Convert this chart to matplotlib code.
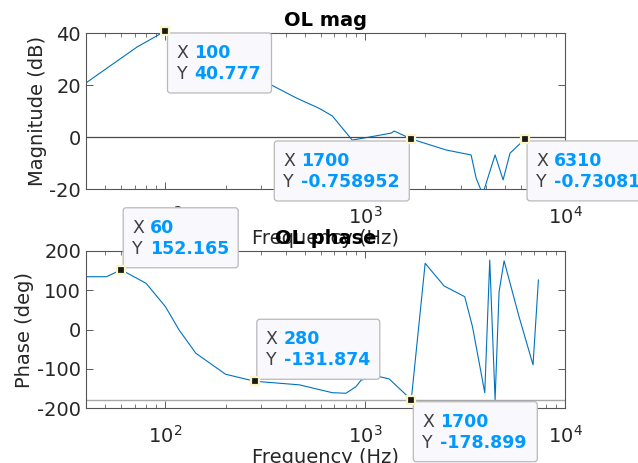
import numpy as np
import matplotlib
matplotlib.use("Agg")
import matplotlib.pyplot as plt
from matplotlib.patches import FancyBboxPatch
from matplotlib.lines import Line2D
from matplotlib.transforms import IdentityTransform

plt.rcParams['font.family'] = ['DejaVu Sans']
plt.rcParams['axes.unicode_minus'] = False

# open loop magnitude (dB)
f_mag = [40, 47, 72, 100, 121, 339, 452, 589, 684, 861, 1349, 1396, 1700,
         2541, 3388, 3590, 3800, 3935, 4467, 4898, 5309, 6310, 7330]
mag_db = [20.8, 24.6, 34.6, 40.777, 40.8, 20.0, 15.0, 11.0, 8.1, -1.2, 1.5, 2.3,
          -0.758952, -5.0, -6.9, -15.8, -20.5, -20.3, -6.9, -16.5, -6.2, -0.7308, -4.0]

# open loop phase (deg)
f_ph = [40, 50.7, 60, 80, 100, 117, 142, 200, 280, 468, 684, 800, 898, 955,
        1175, 1318, 1700, 1995, 2483, 3148, 3443, 3966, 4200, 4467, 4677,
        4955, 5888, 6918, 7360]
phase_deg = [134.5, 134.5, 152.165, 117.6, 58, -1.3, -60.7, -114, -131.874,
             -141, -161, -162.5, -145.7, -128.7, -120, -126, -178.899, 168.7,
             110.8, 83.6, 7, -161, 177, -179.6, 96, 175, 32.6, -90, 126]

# data tips: (x, y, label text, corner, box width)
mag_tips = [(100, 40.777, '40.777', 'lr', 104),
            (1700, -0.758952, '-0.758952', 'll', 135),
            (6310, -0.7308, '-0.730812', 'lr', 135)]
ph_tips = [(60, 152.165, '152.165', 'ur', 115),
           (280, -131.874, '-131.874', 'ur', 123),
           (1700, -178.899, '-178.899', 'lr', 124)]
tip_x_labels = {100: '100', 1700: '1700', 6310: '6310', 60: '60', 280: '280'}

W, H = 638, 463
fig = plt.figure(figsize=(W / 100, H / 100), dpi=100)
ax1 = fig.add_axes([86 / W, 1 - 189 / H, 479 / W, 156 / H])
ax2 = fig.add_axes([86 / W, 1 - 408 / H, 479 / W, 157 / H])

line_c = '#0072BD'
txt_c = '#262626'
fs = 14

ax1.semilogx(f_mag, mag_db, color=line_c, lw=0.8)
ax1.axhline(0, color='#4a4a4a', lw=0.9)
ax1.set_xlim(40, 1e4)
ax1.set_ylim(-20, 40)
ax1.set_yticks([-20, 0, 20, 40])
ax1.set_ylabel('Magnitude (dB)', fontsize=fs, color=txt_c, labelpad=2)
ax1.set_xlabel('Frequency (Hz)', fontsize=fs, color=txt_c, labelpad=1)
ax1.set_title('OL mag', fontsize=fs, fontweight='bold', pad=5)

ax2.semilogx(f_ph, phase_deg, color=line_c, lw=0.8)
ax2.axhline(-180, color='#a8a8a8', lw=1.0)
ax2.set_xlim(40, 1e4)
ax2.set_ylim(-200, 200)
ax2.set_yticks([-200, -100, 0, 100, 200])
ax2.set_ylabel('Phase (deg)', fontsize=fs, color=txt_c, labelpad=2)
ax2.set_xlabel('Frequency (Hz)', fontsize=fs, color=txt_c, labelpad=1)
ax2.set_title('OL phase', fontsize=fs, fontweight='bold', pad=5)

for ax in (ax1, ax2):
    ax.tick_params(which='both', direction='in', top=True, right=True,
                   labelsize=fs, labelcolor=txt_c, color='#404040')
    ax.tick_params(which='major', length=5, width=0.6)
    ax.tick_params(which='minor', length=3, width=0.5)
    ax.tick_params(axis='x', which='major', pad=12)
    for sp in ax.spines.values():
        sp.set_color('#555555')
        sp.set_linewidth(0.8)

fig.canvas.draw()


def datatip(ax, x, y, label, corner, bw, bh=60):
    px, py = ax.transData.transform((x, y))
    if corner == 'lr':
        left, top = px + 2, py - 2
    elif corner == 'll':
        left, top = px - 2 - bw, py - 2
    else:
        left, top = px + 2, py + 2 + bh
    box = FancyBboxPatch((left, top - bh), bw, bh,
                         boxstyle='round,pad=0,rounding_size=3',
                         fc='#f9f9fd', ec='#b9b9b9', lw=0.9,
                         transform=IdentityTransform(), zorder=10)
    fig.add_artist(box)
    for i, (name, val) in enumerate([('X', tip_x_labels[x]), ('Y', label)]):
        ty = top - 20 - 21 * i
        fig.text(left + 9, ty, name, fontsize=12.5, color='#404040',
                 va='center', transform=IdentityTransform(), zorder=11)
        fig.text(left + 27, ty, val, fontsize=12.5, color='#0099ff',
                 fontweight='bold', va='center',
                 transform=IdentityTransform(), zorder=11)
    fig.add_artist(Line2D([px], [py], marker='s', ms=5.5, mfc='#1a1a1a',
                          mec='#fbf5c6', mew=1.6, ls='none',
                          transform=IdentityTransform(), zorder=12))


for t in mag_tips:
    datatip(ax1, *t)
for t in ph_tips:
    datatip(ax2, *t)

fig.savefig('out.png', dpi=100)
